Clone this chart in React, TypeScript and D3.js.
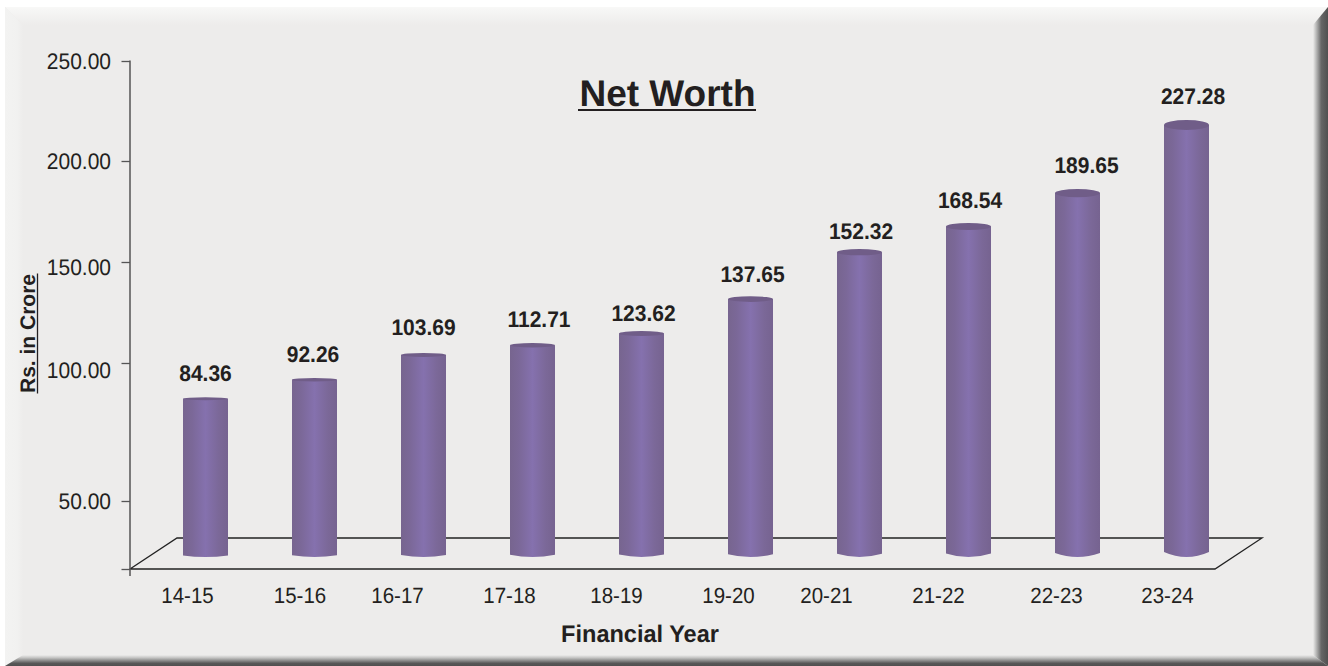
import { useEffect, useRef } from 'react'
import * as d3 from 'd3'

const WIDTH = 1328
const HEIGHT = 666

const years = ['14-15', '15-16', '16-17', '17-18', '18-19', '19-20', '20-21', '21-22', '22-23', '23-24']
const netWorth = [84.36, 92.26, 103.69, 112.71, 123.62, 137.65, 152.32, 168.54, 189.65, 227.28]
const yTicks = [0, 50, 100, 150, 200, 250]

// the printed axis is not evenly spaced, so both y scales are piecewise
const axisKnots = [569, 501, 363, 262, 161, 61]
const barValueKnots = [84.36, 92.26, 103.69, 123.62, 137.65, 152.32, 189.65, 227.28]
const barTopKnots = [397.3, 378, 353, 331, 296.3, 249, 189, 120]

// hand placed labels in the original
const yearLabelNudge = [-18.5, -15, -26.5, -23.5, -25.5, -22.5, -33.5, -30.5, -21.5, -19.5]
const valueLabelNudge = [0, -1.5, 0, 6.5, 2, 2, 1.5, 1.5, 9, 6.5]
const valueLabelGap = [16.3, 16, 18, 16, 10, 14.3, 10, 15, 16.3, 16]
const yTickNudge: Record<number, number> = { 100: 7, 150: 5 }

const FONT = '"Liberation Sans", Arial, sans-serif'
const INK = '#231f20'
const PANEL = '#edeceb'

// the reference type is slightly condensed
function squeeze(sel: d3.Selection<any, any, any, any>, k: number) {
  sel.each(function (this: SVGTextElement) {
    const len = this.getComputedTextLength()
    if (len > 0) {
      this.setAttribute('textLength', String(len * k))
      this.setAttribute('lengthAdjust', 'spacingAndGlyphs')
    }
  })
}

export default function App() {
  const svgRef = useRef<SVGSVGElement>(null)

  useEffect(() => {
    if (!svgRef.current) return
    const svg = d3.select(svgRef.current)
    svg.selectAll('*').remove()
    svg
      .attr('width', WIDTH)
      .attr('height', HEIGHT)
      .style('font-family', FONT)
      .style('text-rendering', 'geometricPrecision')

    const defs = svg.append('defs')
    const gradient = (id: string, x2: number, y2: number, stops: [number, string][]) => {
      const g = defs.append('linearGradient').attr('id', id).attr('x1', 0).attr('y1', 0).attr('x2', x2).attr('y2', y2)
      stops.forEach(([o, c]) => g.append('stop').attr('offset', o).attr('stop-color', c))
    }
    gradient('bevelTop', 0, 1, [[0, '#f8f8f7'], [1, PANEL]])
    gradient('bevelLeft', 1, 0, [[0, '#f3f3f2'], [0.7, '#f1f1f0'], [1, PANEL]])
    gradient('bevelBottom', 0, 1, [[0, PANEL], [0.25, '#c4c4c3'], [0.75, '#585858'], [1, '#505050']])
    gradient('bevelRight', 1, 0, [[0, PANEL], [0.2, '#bdbdbc'], [0.55, '#666666'], [1, '#505050']])
    gradient('cylinder', 1, 0, [[0, '#77658f'], [0.2, '#7b6898'], [0.5, '#8571ae'], [0.8, '#7b6898'], [1, '#766390']])

    // panel with bevelled frame
    svg.append('rect').attr('x', 5).attr('y', 7).attr('width', WIDTH - 5).attr('height', HEIGHT - 7).attr('fill', PANEL)
    const bevel = (pts: [number, number][], fill: string) =>
      svg.append('polygon').attr('points', pts.join(' ')).attr('fill', fill)
    bevel([[5, 7], [1328, 7], [1313, 25], [23, 25]], 'url(#bevelTop)')
    bevel([[5, 7], [23, 25], [23, 655], [5, 666]], 'url(#bevelLeft)')
    bevel([[5, 666], [23, 655], [1313, 655], [1328, 666]], 'url(#bevelBottom)')
    bevel([[1328, 7], [1313, 25], [1313, 655], [1328, 666]], 'url(#bevelRight)')

    const yAxisScale = d3.scaleLinear().domain(yTicks).range(axisKnots)
    const barTop = d3.scaleLinear().domain(barValueKnots).range(barTopKnots)
    const capRy = d3.scaleLinear().domain([84.36, 227.28]).range([1.5, 5])
    const x = d3.scalePoint<string>().domain(years).range([205.5, 1186.5])
    const barWidth = 45
    const floorY = 557

    const floorBack = 538
    const floorFront = yAxisScale(0)
    const floorPath = d3.path()
    floorPath.moveTo(130, floorFront)
    floorPath.lineTo(177, floorBack)
    floorPath.lineTo(1262, floorBack)
    floorPath.lineTo(1215, floorFront)
    floorPath.closePath()
    svg.append('path').attr('d', floorPath.toString()).attr('fill', 'none').attr('stroke', '#222').attr('stroke-width', 1.3)

    // y axis
    const yAxis = svg
      .append('g')
      .attr('transform', 'translate(130,0)')
      .call(
        d3
          .axisLeft(yAxisScale)
          .tickValues(yTicks)
          .tickSize(8.5)
          .tickPadding(10.5)
          .tickFormat(d => (+d === 0 ? '' : d3.format('.2f')(+d)))
      )
    yAxis.select('.domain').remove()
    yAxis.selectAll('.tick line').attr('stroke', '#555').attr('stroke-width', 1.3)
    const yLabels = yAxis
      .selectAll<SVGTextElement, number>('.tick text')
      .attr('fill', INK)
      .style('font-size', '22.5px')
      .style('font-family', FONT)
      .attr('y', d => yTickNudge[d] ?? 0)
    squeeze(yLabels, 0.933)
    svg
      .append('line')
      .attr('x1', 130)
      .attr('x2', 130)
      .attr('y1', yAxisScale(250) - 0.6)
      .attr('y2', 576)
      .attr('stroke', '#555')
      .attr('stroke-width', 1.5)

    // x labels
    const xAxis = svg
      .append('g')
      .attr('transform', 'translate(0,569)')
      .call(d3.axisBottom(x).tickSize(0).tickPadding(18))
    xAxis.select('.domain').remove()
    const xLabels = xAxis
      .selectAll<SVGTextElement, string>('.tick text')
      .attr('fill', INK)
      .style('font-size', '22px')
      .style('font-family', FONT)
      .attr('x', (_, i) => yearLabelNudge[i])
    squeeze(xLabels, 0.932)

    // cylinders
    const bars = svg
      .selectAll('.bar')
      .data(netWorth)
      .enter()
      .append('g')
      .attr('class', 'bar')
      .attr('transform', (_, i) => `translate(${x(years[i])},0)`)

    bars
      .append('path')
      .attr('d', d => {
        const rx = barWidth / 2
        const ry = capRy(d)
        const top = barTop(d) + ry
        const p = d3.path()
        p.moveTo(-rx, top)
        p.lineTo(-rx, floorY - ry)
        p.quadraticCurveTo(0, floorY + ry, rx, floorY - ry)
        p.lineTo(rx, top)
        p.closePath()
        return p.toString()
      })
      .attr('fill', 'url(#cylinder)')

    bars
      .append('ellipse')
      .attr('rx', barWidth / 2)
      .attr('ry', d => capRy(d))
      .attr('cy', d => barTop(d) + capRy(d))
      .attr('fill', '#705d88')

    // value labels
    const valueLabels = bars
      .append('text')
      .attr('x', (_, i) => valueLabelNudge[i])
      .attr('y', (d, i) => barTop(d) - valueLabelGap[i])
      .attr('text-anchor', 'middle')
      .attr('fill', INK)
      .style('font-size', '22.5px')
      .style('font-weight', 'bold')
      .text(d => d.toFixed(2))
    squeeze(valueLabels, 0.933)

    // title
    svg
      .append('text')
      .attr('x', 667.5)
      .attr('y', 106)
      .attr('text-anchor', 'middle')
      .attr('fill', INK)
      .style('font-size', '37px')
      .style('font-weight', 'bold')
      .text('Net Worth')
    svg.append('line').attr('x1', 578).attr('x2', 756).attr('y1', 110).attr('y2', 110).attr('stroke', INK).attr('stroke-width', 2.2)

    // axis titles
    const xTitle = svg
      .append('text')
      .attr('x', 640)
      .attr('y', 641.5)
      .attr('text-anchor', 'middle')
      .attr('fill', INK)
      .style('font-size', '24px')
      .style('font-weight', 'bold')
      .text('Financial Year')
    squeeze(xTitle, 0.98)
    svg
      .append('text')
      .attr('transform', 'translate(35,333.5) rotate(-90)')
      .attr('text-anchor', 'middle')
      .attr('fill', INK)
      .style('font-size', '21px')
      .style('font-weight', 'bold')
      .text('Rs. in Crore')
    svg.append('line').attr('x1', 37.5).attr('x2', 37.5).attr('y1', 273.5).attr('y2', 393.5).attr('stroke', INK).attr('stroke-width', 1.3)
  }, [])

  return <svg ref={svgRef} style={{ position: 'absolute', left: 0, top: 0, display: 'block' }} />
}
